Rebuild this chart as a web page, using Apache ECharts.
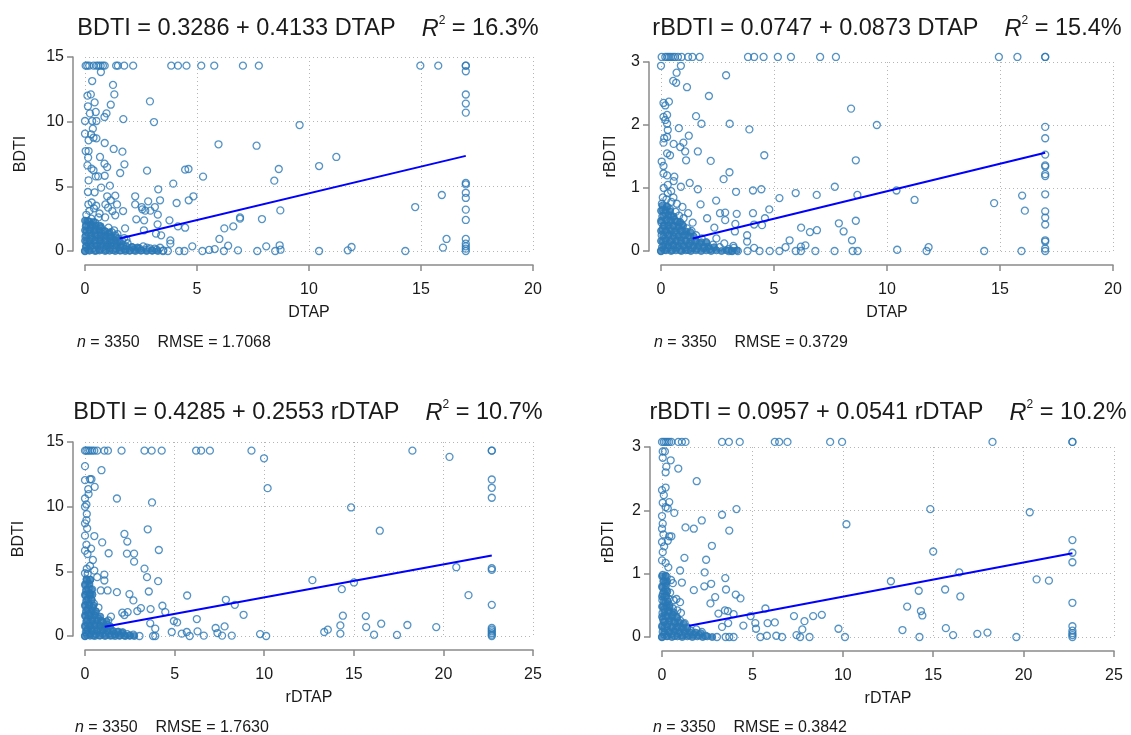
<!DOCTYPE html>
<html>
<head>
<meta charset="utf-8">
<script src="https://cdn.jsdelivr.net/npm/echarts@6/dist/echarts.min.js"></script>
<style>
  html, body { margin: 0; padding: 0; background: #fff; }
  #chart { width: 1131px; height: 735px; }
</style>
</head>
<body>
<div id="chart"></div>
<script>
// top-coded values
const BDTI_CAP = 14.33;
const RBDTI_CAP = 3.08;
const DTAP_CAP = 17;
const RDTAP_CAP = 22.7;

// ---- panel 1: BDTI vs DTAP ----
const p1TopX = [0.03,0.1,0.19,0.38,0.51,0.6,0.7,0.8,0.88,1.39,1.47,1.75,2.15,3.85,4.15,4.53,5.19,5.77,7.05,7.76,14.97,15.77,17,17];
const p1ColY = [13.9,12.1,11.4,10.7,5.26,5.15,4.5,4.1,3.2,2.4,0.93,0.57,0.36,0.18,0];
// overplotted core near the origin
const p1Core = [[0,0],[0.2,0.02],[0.45,0],[0.65,0.03],[0.9,0],[1.1,0.02],[1.35,0],[1.55,0.03],[1.8,0],[2.0,0.02],[2.25,0],[2.5,0.03],[2.75,0],[3.0,0.02],[3.25,0],
  [0.05,0.4],[0.25,0.38],[0.5,0.42],[0.7,0.4],[0.95,0.37],[1.15,0.41],[1.4,0.4],[1.6,0.38],[1.85,0.35],[2.1,0.3],[2.35,0.28],
  [0,0.8],[0.22,0.78],[0.45,0.82],[0.68,0.8],[0.9,0.79],[1.12,0.81],[1.35,0.78],[1.55,0.7],
  [0.04,1.2],[0.26,1.18],[0.48,1.22],[0.7,1.19],[0.92,1.2],[1.15,1.15],[1.4,1.05],
  [0,1.6],[0.2,1.62],[0.42,1.58],[0.65,1.6],[0.88,1.55],[1.1,1.45],
  [0.05,2.0],[0.25,2.02],[0.48,1.98],[0.7,1.92],[0,2.35],[0.18,2.3],[0.38,2.25]];
const p1Cluster = [[0,0],[0.05,0.3],[0.1,0.7],[0.02,1.1],[0.08,1.5],[0.04,1.9],[0.15,0.1],[0.2,0.5],[0.25,0.9],[0.18,1.3],[0.22,1.7],[0.3,2.0],[0.35,0.2],[0.4,0.6],[0.33,1.0],[0.42,1.4],[0.38,1.8],[0.5,0.05],[0.55,0.4],[0.48,0.8],[0.58,1.2],[0.52,1.6],[0.62,1.95],[0.65,0.15],[0.7,0.55],[0.68,0.95],[0.75,1.35],[0.72,1.75],[0.8,0.3],[0.85,0.7],[0.82,1.1],[0.9,1.5],[0.95,0.1],[1.0,0.5],[0.98,0.9],[1.05,1.3],[1.1,0.25],[1.15,0.65],[1.12,1.05],[1.2,1.45],[1.25,0.1],[1.3,0.45],[1.28,0.85],[1.35,1.2],[1.4,0.2],[1.45,0.6],[1.5,0.95],[1.55,0.3],[1.6,0.05],[1.7,0.4],[1.8,0.15],[1.9,0.6],[2.0,0.05],[2.1,0.3],[2.2,0.1],[2.35,0.2],[2.5,0.05],[2.6,0.35],[2.75,0.1],[2.9,0.2],[3.0,0.05],[3.2,0.1],[3.35,0.25],[3.5,0.05],[1.65,0.8],[1.75,1.0],[1.85,0.9],[0.12,2.3],[0.28,2.5],[0.45,2.2],[0.6,2.6],[0.06,2.8],[0.2,3.1],[0.4,3.3],[0.15,3.6],[0.3,3.75],[0.5,3.5],[0.65,2.9],[0.9,2.6],[1.05,1.8],[1.3,1.6],[1.45,1.3]];
const p1Scatter = [[15.93,4.33],[14.74,3.4],[16.14,0.93],[15.98,0.26],[14.3,0],[11.73,0.05],[11.9,0.31],[10.45,0],[11.22,7.27],[10.45,6.57],[9.58,9.74],[7.66,8.14],[5.96,8.25],[8.65,6.34],[8.45,5.44],[8.72,3.14],[7.9,2.47],[6.92,2.5],[6.92,2.6],[6.62,1.9],[6.22,1.75],[6.0,0.93],[6.39,0.41],[6.2,0],[6.83,0.05],[7.69,0],[8.09,0.36],[8.49,0],[8.69,0.44],[8.73,0.1],[5.79,0.15],[5.54,0.08],[5.24,0],[4.79,0.36],[5.27,5.75],[4.47,6.29],[4.62,6.34],[4.84,4.23],[4.63,3.92],[4.09,3.71],[3.94,5.21],[3.27,4.77],[3.35,3.92],[2.9,11.57],[3.08,9.97],[2.77,6.21],[4.47,1.8],[4.15,1.9],[3.77,2.37],[3.25,2.81],[3.12,3.4],[2.82,3.84],[2.92,3.12],[2.69,3.12],[2.56,3.22],[2.24,4.23],[2.24,3.6],[2.53,3.4],[2.29,2.45],[2.64,2.37],[2.63,1.6],[3.24,2.06],[3.17,1.34],[3.4,1.21],[3.81,0.82],[3.81,0.57],[4.2,0],[4.44,0],[3.7,0],[3.48,0],[3.11,0.18],[2.76,0.26],[2.44,0.18],[1.79,1.75],[1.76,6.7],[1.57,6.03],[1.67,7.68],[1.28,7.89],[1.71,10.2],[1.31,12.11],[1.25,12.84],[1.15,11.31],[0.96,10.64],[0.87,10.36],[0.71,13.84],[0.32,13.14],[0.26,12.11],[0.11,12.01],[0.43,11.49],[0.13,11.19],[0.48,10.75],[0.22,10.64],[0.32,10.05],[0,10.05],[0.51,10.05],[0.35,9.46],[0,9.07],[0.27,9.02],[0.38,8.76],[0.16,8.56],[0.51,8.71],[0.88,8.35],[0.03,7.73],[0.16,7.73],[0.67,7.27],[0.14,7.22],[0.87,6.75],[0.99,6.49],[0.11,6.62],[0.29,6.37],[0.38,6.24],[0.48,5.77],[0.16,5.46],[0.59,5.77],[0.88,5.82],[1.11,5.05],[0.72,4.9],[0.13,4.56],[0.43,4.54],[0.99,4.23],[1.35,4.28],[1.15,3.92],[1.43,3.6],[0.91,3.6],[1.03,3.35],[1.22,3.09],[1.7,3.09],[1.35,2.76]];

// ---- panel 2: rBDTI vs DTAP ----
const p2TopX = [0.03,0.19,0.27,0.35,0.43,0.53,0.62,0.75,0.91,1.2,1.39,1.71,3.85,4.12,4.54,5.17,5.75,7.04,7.74,14.95,15.77,17,17];
const p2ColY = [1.97,1.79,1.53,1.36,1.34,1.22,1.19,0.9,0.63,0.53,0.42,0.17,0.15,0.04,0];
const p2Core = [[0,0],[0.22,0.01],[0.45,0],[0.66,0.01],[0.9,0],[1.1,0.01],[1.32,0],[1.55,0.01],[1.78,0],[2.0,0.01],[2.22,0],[2.45,0.01],[2.68,0],[2.9,0.01],[3.12,0],[3.35,0.01],
  [0.1,0.08],[0.33,0.08],[0.55,0.09],[0.77,0.08],[1.0,0.08],[1.22,0.09],[1.44,0.08],[1.66,0.08],[1.9,0.07],[2.1,0.07],[2.35,0.06],
  [0,0.16],[0.22,0.17],[0.44,0.16],[0.66,0.16],[0.88,0.17],[1.1,0.16],[1.33,0.15],[1.55,0.16],[1.78,0.14],[2.0,0.13],
  [0.1,0.24],[0.33,0.25],[0.55,0.24],[0.77,0.24],[1.0,0.25],[1.22,0.24],[1.45,0.23],
  [0,0.32],[0.22,0.33],[0.44,0.32],[0.66,0.32],[0.88,0.33],[1.1,0.31],[1.3,0.3],
  [0.1,0.4],[0.33,0.41],[0.55,0.4],[0.77,0.39],[0.98,0.4],
  [0,0.48],[0.22,0.49],[0.44,0.48],[0.66,0.47],[0.85,0.46],
  [0.1,0.56],[0.33,0.57],[0.55,0.55],[0,0.64],[0.2,0.65],[0.4,0.63],[0.06,0.72],[0.25,0.7]];
const p2Cluster = [[0,0],[0.05,0.06],[0.1,0.15],[0.03,0.25],[0.08,0.35],[0.02,0.45],[0.06,0.55],[0.1,0.65],[0.04,0.75],[0.08,0.85],[0.15,0.02],[0.2,0.1],[0.18,0.2],[0.22,0.3],[0.16,0.4],[0.25,0.5],[0.2,0.6],[0.28,0.7],[0.24,0.82],[0.3,0.92],[0.32,0.05],[0.38,0.14],[0.35,0.26],[0.4,0.36],[0.36,0.46],[0.44,0.56],[0.4,0.66],[0.46,0.78],[0.5,0.02],[0.55,0.1],[0.52,0.2],[0.58,0.3],[0.54,0.4],[0.6,0.5],[0.65,0.62],[0.7,0.06],[0.74,0.16],[0.68,0.26],[0.78,0.36],[0.72,0.46],[0.8,0.56],[0.85,0.02],[0.9,0.12],[0.88,0.22],[0.95,0.32],[0.92,0.42],[1.0,0.52],[1.05,0.06],[1.1,0.16],[1.08,0.26],[1.15,0.36],[1.2,0.02],[1.25,0.12],[1.3,0.22],[1.35,0.32],[1.4,0.05],[1.5,0.15],[1.55,0.25],[1.6,0.04],[1.7,0.12],[1.8,0.2],[1.9,0.05],[2.0,0.14],[2.15,0.03],[2.3,0.1],[2.45,0.2],[2.6,0.06],[2.8,0.12],[3.0,0.03],[3.2,0.08],[0.55,0.85],[0.7,0.75],[0.95,0.7],[1.2,0.6],[1.4,0.45],[0.3,1.05],[0.12,1.0],[0.45,0.95]];
const p2Scatter = [[15.98,0.88],[16.1,0.64],[14.74,0.76],[15.95,0],[14.3,0],[11.84,0.06],[11.75,0],[10.45,0.02],[11.22,0.81],[10.42,0.96],[9.55,2.0],[8.41,2.26],[8.62,1.44],[8.69,0.89],[8.62,0.48],[8.45,0.17],[8.48,0],[8.7,0],[7.69,1.02],[7.87,0.44],[8.08,0.31],[7.68,0],[6.89,0.89],[6.9,0.33],[6.59,0.3],[6.83,0],[6.2,0.37],[6.39,0.09],[6.19,0.07],[5.96,0.92],[5.24,0.84],[5.69,0.17],[5.51,0.06],[5.96,0],[5.24,0],[6.19,0],[4.57,1.52],[4.79,0.66],[4.6,0.52],[4.47,0.41],[4.44,0.98],[4.07,0.96],[4.07,0.6],[4.12,0.42],[4.12,0.05],[3.91,1.93],[3.81,0.25],[3.81,0.15],[3.83,0],[4.36,0],[4.81,0],[3.32,0.94],[3.35,0.59],[3.29,0.43],[3.27,0.31],[3.03,1.25],[3.04,2.02],[2.88,2.79],[2.77,1.14],[2.84,0.61],[2.61,0.6],[2.84,0.49],[2.44,0.8],[2.2,1.43],[2.12,2.46],[2.04,0.52],[2.36,0.37],[3.22,0.05],[3.15,0],[3.4,0],[3.0,0],[1.63,0.98],[1.75,0.74],[1.79,2.02],[1.55,2.14],[1.63,1.58],[1.23,1.83],[1.11,1.44],[1.07,1.58],[0.99,1.72],[0.85,1.65],[1.27,1.08],[1.15,2.6],[0.88,2.94],[0.69,2.83],[0.67,2.67],[0.54,2.7],[0.79,1.95],[0.35,2.37],[0.19,2.31],[0.11,2.35],[0.27,2.16],[0.11,2.13],[0.19,2.08],[0.27,2.02],[0.3,1.92],[0.27,1.81],[0.14,1.79],[0.11,1.72],[0,2.94],[0.56,1.7],[0.27,1.55],[0.4,1.52],[0.03,1.42],[0.11,1.35],[0.11,1.23],[0.27,1.2],[0.59,1.18],[0.56,1.11],[0.88,1.02]];

// ---- panel 3: BDTI vs rDTAP ----
const p3TopX = [0,0.08,0.18,0.28,0.4,0.52,0.68,1.08,1.28,2.04,3.32,3.72,4.28,6.2,6.48,6.97,9.29,18.27,22.7,22.7];
const p3ColY = [12.1,11.46,10.69,5.24,5.11,2.41,0.62,0.49,0.36,0.23,0.1,0];
const p3Core = [[0,0],[0.28,0.02],[0.55,0],[0.85,0.03],[1.12,0],[1.4,0.02],[1.68,0],[1.95,0.02],[2.25,0],[2.5,0.02],[2.75,0],
  [0.1,0.4],[0.4,0.38],[0.7,0.42],[0.98,0.4],[1.25,0.38],[1.55,0.36],[1.85,0.35],[2.1,0.3],
  [0,0.8],[0.28,0.78],[0.56,0.82],[0.85,0.8],[1.12,0.78],[1.4,0.75],
  [0.1,1.2],[0.4,1.18],[0.68,1.22],[0.95,1.15],[1.2,1.1],
  [0,1.6],[0.28,1.58],[0.55,1.6],[0.85,1.5],[0.1,2.0],[0.38,1.98],[0.6,1.9],
  [0,2.4],[0.25,2.38],[0.48,2.35],[0.1,2.8],[0.38,2.78],[0,3.2],[0.25,3.18],[0.42,3.2],
  [0.1,3.6],[0.35,3.58],[0,4.0],[0.25,4.02],[0.08,4.4],[0.3,4.35]];
const p3Cluster = [[0,0],[0.05,0.3],[0.02,0.7],[0.08,1.1],[0.03,1.5],[0.06,1.9],[0.02,2.3],[0.07,2.7],[0.03,3.1],[0.06,3.5],[0.02,3.9],[0.1,4.3],[0.12,0.1],[0.15,0.5],[0.18,0.9],[0.14,1.3],[0.2,1.7],[0.16,2.1],[0.22,2.5],[0.18,2.9],[0.25,3.3],[0.2,3.7],[0.28,0.2],[0.32,0.6],[0.3,1.0],[0.35,1.4],[0.33,1.8],[0.4,2.2],[0.45,0.05],[0.5,0.4],[0.48,0.8],[0.55,1.2],[0.52,1.6],[0.62,0.15],[0.68,0.55],[0.65,0.95],[0.72,1.35],[0.8,0.05],[0.85,0.35],[0.82,0.75],[0.9,1.15],[0.98,0.2],[1.05,0.6],[1.0,1.0],[1.15,0.1],[1.2,0.45],[1.25,0.85],[1.35,0.2],[1.4,0.55],[1.3,1.2],[1.5,0.05],[1.55,0.4],[1.45,1.5],[1.65,0.15],[1.8,0.3],[1.9,0.05],[2.05,0.2],[2.2,0.05],[2.35,0.15],[2.5,0.05],[2.7,0.1],[0.35,2.8],[0.5,2.5],[0.3,3.2],[0.15,4.8],[0.4,3.6],[0.6,1.9],[0.75,2.2],[0.1,5.2]];
const p3Scatter = [[9.99,13.74],[10.19,11.43],[20.34,13.85],[14.85,9.94],[16.45,8.14],[20.72,5.32],[21.4,3.16],[12.69,4.32],[15.01,4.14],[14.33,3.62],[14.39,1.57],[15.67,1.54],[15.69,0.69],[16.53,0.95],[17.99,0.85],[19.6,0.69],[16.13,0.1],[17.41,0.08],[14.25,0.82],[14.25,0.18],[13.35,0.31],[13.55,0.49],[9.77,0.15],[10.11,0],[8.85,1.64],[8.36,2.41],[7.86,2.8],[7.79,0.74],[7.29,0.62],[7.39,0.23],[7.65,0.03],[8.19,0.03],[6.63,0.03],[6.28,0.36],[6.24,1.31],[5.7,3.13],[5.84,0],[5.68,0.31],[5.4,0.18],[5.14,1.05],[4.96,1.16],[4.84,0.31],[4.48,1.85],[4.32,2.34],[4.08,4.24],[4.12,6.65],[3.74,10.33],[3.5,8.25],[3.46,4.55],[3.32,5.21],[3.56,3.44],[3.66,2.08],[3.92,0.57],[3.64,0.98],[3.92,0],[3.8,0],[3.12,2.16],[3.04,0],[2.92,1.93],[2.74,5.75],[2.74,6.37],[2.7,2.75],[2.48,3.24],[2.36,7.3],[2.2,7.89],[2.34,6.37],[2.38,1.85],[2.08,1.8],[2.2,1.62],[1.78,10.63],[1.78,3.39],[1.32,6.4],[1.26,3.52],[1.08,4.29],[1.08,4.75],[0.88,3.52],[0.96,7.24],[0.92,12.82],[0.54,11.53],[0.28,12.12],[0.36,12.12],[0,13.13],[0,12.05],[0.18,11.35],[0.2,10.97],[0,10.63],[0.08,10.17],[0,9.99],[0.1,9.43],[0.08,8.96],[0,8.71],[0.12,8.32],[0,7.76],[0.52,7.73],[0.08,7.06],[0.34,6.76],[0,6.6],[0.14,6.34],[0.44,5.88],[0.28,5.42],[0.52,5.06],[0,4.85],[0.68,4.55],[0.28,4.34]];

// ---- panel 4: rBDTI vs rDTAP ----
const p4TopX = [0,0.1,0.2,0.3,0.4,0.52,0.9,1.1,1.3,3.32,3.7,4.3,6.24,6.48,6.94,9.3,9.96,18.28,22.7,22.7];
const p4ColY = [1.53,1.33,1.18,0.54,0.17,0.1,0.06,0.03,0];
const p4Core = [[0,0],[0.28,0.01],[0.55,0],[0.85,0.01],[1.12,0],[1.4,0.01],[1.68,0],[1.95,0.01],[2.25,0],[2.5,0.01],[2.78,0],
  [0.12,0.08],[0.4,0.08],[0.7,0.09],[0.98,0.08],[1.25,0.08],[1.55,0.07],[1.85,0.07],[2.15,0.06],
  [0,0.16],[0.28,0.17],[0.56,0.16],[0.84,0.16],[1.12,0.15],[1.4,0.14],
  [0.12,0.24],[0.4,0.25],[0.68,0.24],[0.95,0.23],[1.2,0.21],
  [0,0.32],[0.28,0.33],[0.56,0.32],[0.84,0.3],[0.12,0.4],[0.4,0.41],[0.65,0.39],
  [0,0.48],[0.25,0.49],[0.42,0.47],[0.1,0.56],[0.32,0.56],[0,0.64],[0.25,0.65],
  [0.1,0.72],[0.3,0.72],[0,0.8],[0.22,0.81],[0.1,0.88],[0.28,0.88],[0,0.96],[0.2,0.97]];
const p4Cluster = [[0,0],[0.04,0.08],[0.02,0.18],[0.06,0.28],[0.03,0.38],[0.07,0.48],[0.02,0.58],[0.05,0.68],[0.03,0.78],[0.08,0.88],[0.04,0.98],[0.12,0.04],[0.15,0.14],[0.1,0.24],[0.18,0.34],[0.14,0.44],[0.2,0.54],[0.16,0.64],[0.22,0.74],[0.2,0.86],[0.26,0.95],[0.28,0.02],[0.32,0.1],[0.3,0.2],[0.36,0.3],[0.34,0.4],[0.4,0.5],[0.38,0.6],[0.45,0.7],[0.5,0.05],[0.55,0.15],[0.52,0.25],[0.58,0.35],[0.6,0.45],[0.65,0.58],[0.7,0.02],[0.75,0.12],[0.72,0.22],[0.8,0.32],[0.85,0.42],[0.9,0.06],[0.95,0.16],[1.0,0.26],[1.05,0.38],[1.1,0.03],[1.18,0.12],[1.25,0.22],[1.3,0.05],[1.4,0.15],[1.5,0.03],[1.6,0.1],[1.75,0.04],[1.9,0.12],[2.05,0.03],[2.2,0.08],[2.4,0.02],[0.6,0.85],[0.8,0.6],[1.0,0.55],[0.35,1.1],[0.5,0.9]];
const p4Scatter = [[20.34,1.97],[14.84,2.02],[15.0,1.35],[10.2,1.78],[16.44,1.02],[20.72,0.91],[21.4,0.89],[12.66,0.88],[14.2,0.73],[15.66,0.75],[16.5,0.64],[13.56,0.48],[14.32,0.41],[14.4,0.34],[13.3,0.11],[15.7,0.14],[16.1,0.03],[17.44,0.05],[18.0,0.07],[19.6,0],[14.24,0],[9.76,0.13],[10.12,0],[8.84,0.35],[8.36,0.33],[7.88,0.25],[7.76,0.12],[7.3,0.33],[7.44,0.03],[7.64,0],[8.16,0],[6.64,0],[6.32,0.02],[5.8,0.02],[5.44,0],[6.24,0.23],[5.84,0.22],[5.72,0.45],[5.16,0.22],[5.2,0.13],[4.9,0.33],[4.5,0.18],[4.34,0.61],[4.08,0.67],[4.12,2.02],[3.72,1.68],[3.32,1.93],[3.54,0.75],[3.5,0.93],[3.66,0.22],[3.96,0.36],[3.48,0.42],[3.64,0.41],[3.32,0.16],[3.52,0],[3.72,0],[3.96,0],[3.04,0],[3.12,0.37],[2.94,0.63],[2.68,0.53],[2.72,0.84],[2.76,1.44],[2.44,1.22],[2.36,1.02],[2.34,0.8],[2.2,1.84],[1.92,2.46],[1.76,1.71],[1.76,0.74],[1.3,1.73],[1.24,1.25],[1.0,1.05],[1.1,0.86],[0.9,2.66],[0.48,2.79],[0.24,2.69],[0.2,2.6],[0.04,2.93],[0.16,2.93],[0.04,2.83],[0.2,2.36],[0,2.32],[0.1,2.24],[0.4,2.13],[0.04,2.12],[0.2,2.05],[0.32,2.03],[0.68,1.96],[0,1.91],[0.04,1.79],[0,1.71],[0.08,1.62],[0.4,1.59],[0.52,1.59],[0.32,1.52],[0,1.5],[0.12,1.43],[0.04,1.34],[0,1.21],[0.2,1.17]];

// fitted lines: intercept, slope and x range of the drawn fit
const fitCoef = [[0.3286, 0.4133], [0.0747, 0.0873], [0.4285, 0.2553], [0.0957, 0.0541]];
const fitX = [[1.55, 17], [1.4, 17], [1.1, 22.7], [1.5, 22.7]];

const FONT = '"Liberation Sans", Arial, sans-serif';
const DOT = '#2a78b5';
const AXIS_GRAY = '#8a8a8a';
const TXT = '#1a1a1a';

const panels = [
  { grid: {left: 85, top: 57, width: 448, height: 194}, xMax: 20, yMax: 15, yInt: 5,
    xName: 'DTAP', yName: 'BDTI', yGap: 44, core: p1Core, cluster: p1Cluster, scatter: p1Scatter,
    topX: p1TopX, cap: BDTI_CAP, colX: DTAP_CAP, colY: p1ColY,
    title: ['BDTI = 0.3286 + 0.4133 DTAP', '16.3%'], tx: 308, ty: 29,
    note: ['3350', '1.7068'], nx: 77, ny: 343 },
  { grid: {left: 661, top: 62, width: 452, height: 189}, xMax: 20, yMax: 3, yInt: 1,
    xName: 'DTAP', yName: 'rBDTI', yGap: 30, core: p2Core, cluster: p2Cluster, scatter: p2Scatter,
    topX: p2TopX, cap: RBDTI_CAP, colX: DTAP_CAP, colY: p2ColY,
    title: ['rBDTI = 0.0747 + 0.0873 DTAP', '15.4%'], tx: 887, ty: 29,
    note: ['3350', '0.3729'], nx: 654, ny: 343 },
  { grid: {left: 85, top: 442, width: 448, height: 194}, xMax: 25, yMax: 15, yInt: 5,
    xName: 'rDTAP', yName: 'BDTI', yGap: 46, core: p3Core, cluster: p3Cluster, scatter: p3Scatter,
    topX: p3TopX, cap: BDTI_CAP, colX: RDTAP_CAP, colY: p3ColY,
    title: ['BDTI = 0.4285 + 0.2553 rDTAP', '10.7%'], tx: 308, ty: 413,
    note: ['3350', '1.7630'], nx: 75, ny: 728 },
  { grid: {left: 662, top: 447, width: 452, height: 190}, xMax: 25, yMax: 3, yInt: 1,
    xName: 'rDTAP', yName: 'rBDTI', yGap: 33, core: p4Core, cluster: p4Cluster, scatter: p4Scatter,
    topX: p4TopX, cap: RBDTI_CAP, colX: RDTAP_CAP, colY: p4ColY,
    title: ['rBDTI = 0.0957 + 0.0541 rDTAP', '10.2%'], tx: 888, ty: 413,
    note: ['3350', '0.3842'], nx: 653, ny: 728 }
];

const axisLineStyle = { color: AXIS_GRAY, width: 1.5 };
const gridLineStyle = { type: [1, 3], color: '#b5b5b5', width: 1 };

let grids = [], xAxes = [], yAxes = [], series = [], graphics = [];

panels.forEach(function (p, i) {
  grids.push(p.grid);
  xAxes.push({
    type: 'value', gridIndex: i, min: 0, max: p.xMax, interval: 5, offset: 14,
    axisLine: { show: true, onZero: false, lineStyle: axisLineStyle },
    axisTick: { show: true, length: 6, lineStyle: axisLineStyle },
    axisLabel: { color: TXT, fontSize: 16, fontFamily: FONT, margin: 17 },
    splitLine: { show: true, lineStyle: gridLineStyle },
    name: p.xName, nameLocation: 'middle', nameGap: 40,
    nameTextStyle: { color: TXT, fontSize: 16, fontFamily: FONT }
  });
  yAxes.push({
    type: 'value', gridIndex: i, min: 0, max: p.yMax, interval: p.yInt, offset: 12,
    axisLine: { show: true, onZero: false, lineStyle: axisLineStyle },
    axisTick: { show: true, length: 6, lineStyle: axisLineStyle },
    axisLabel: { color: TXT, fontSize: 16, fontFamily: FONT, margin: 9 },
    splitLine: { show: true, lineStyle: gridLineStyle },
    name: p.yName, nameLocation: 'middle', nameGap: p.yGap,
    nameTextStyle: { color: TXT, fontSize: 16, fontFamily: FONT }
  });

  // heavily overplotted core: drawn as solid marks
  series.push({
    type: 'scatter', xAxisIndex: i, yAxisIndex: i, data: p.core, clip: false,
    symbol: 'circle', symbolSize: 7,
    itemStyle: { color: DOT, borderColor: DOT, borderWidth: 1 },
    emphasis: { disabled: true }, z: 2
  });

  const pts = p.cluster.concat(p.scatter)
    .concat(p.topX.map(function (x) { return [x, p.cap]; }))
    .concat(p.colY.map(function (y) { return [p.colX, y]; }));

  series.push({
    type: 'scatter', xAxisIndex: i, yAxisIndex: i, data: pts, clip: false,
    symbol: 'circle', symbolSize: 7,
    itemStyle: { color: 'rgba(0,0,0,0)', borderColor: DOT, borderWidth: 1.3 },
    emphasis: { disabled: true }, z: 2
  });

  const a = fitCoef[i][0], b = fitCoef[i][1];
  series.push({
    type: 'line', xAxisIndex: i, yAxisIndex: i, showSymbol: false, clip: false,
    data: fitX[i].map(function (x) { return [x, a + b * x]; }),
    lineStyle: { color: '#0000ff', width: 2 }, z: 3, silent: true
  });

  graphics.push({
    type: 'text', x: p.tx, y: p.ty,
    style: {
      text: '{a|' + p.title[0] + '    }{i|R}{s|2}{a| = ' + p.title[1] + '}',
      align: 'center', verticalAlign: 'middle', fill: TXT,
      rich: {
        a: { fontSize: 23.5, fontFamily: FONT, fill: TXT, lineHeight: 28 },
        i: { fontSize: 23.5, fontFamily: FONT, fill: TXT, fontStyle: 'italic', lineHeight: 28 },
        s: { fontSize: 12, fontFamily: FONT, fill: TXT, verticalAlign: 'top', lineHeight: 14 }
      }
    }
  });
  graphics.push({
    type: 'text', x: p.nx, y: p.ny,
    style: {
      text: '{i|n}{a| = ' + p.note[0] + '    RMSE = ' + p.note[1] + '}',
      align: 'left', verticalAlign: 'middle', fill: TXT,
      rich: {
        a: { fontSize: 16, fontFamily: FONT, fill: TXT },
        i: { fontSize: 16, fontFamily: FONT, fill: TXT, fontStyle: 'italic' }
      }
    }
  });
});

const chart = echarts.init(document.getElementById('chart'), null, { renderer: 'canvas' });
chart.setOption({
  backgroundColor: '#ffffff',
  animation: false,
  grid: grids,
  xAxis: xAxes,
  yAxis: yAxes,
  series: series,
  graphic: graphics
});
</script>
</body>
</html>
